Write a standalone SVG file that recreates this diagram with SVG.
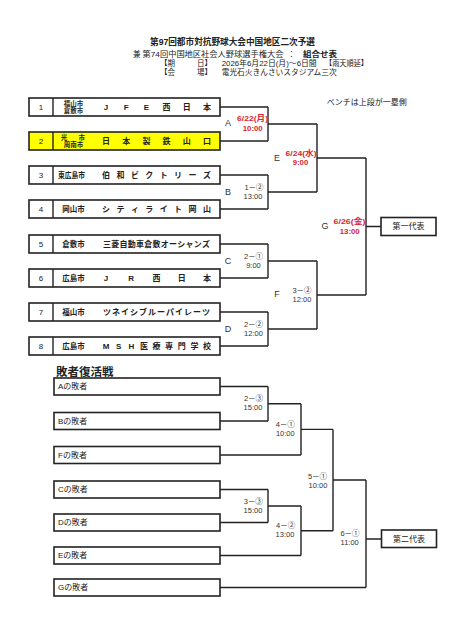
<svg xmlns="http://www.w3.org/2000/svg" width="453" height="640" viewBox="0 0 453 640">
<style>
text{font-family:"Liberation Sans","Noto Sans CJK JP",sans-serif;dominant-baseline:central;fill:#222}
.box{fill:#fff;stroke:#222;stroke-width:1.6}
.yel{fill:#ffff00}
.div{stroke:#222;stroke-width:1.4}
.num{font-size:8px;text-anchor:middle}
.city{font-size:7.5px;font-weight:bold;text-anchor:middle}
.city2{font-size:6.5px;font-weight:bold;text-anchor:middle}
.team{font-size:8px;font-weight:bold;text-anchor:middle}
.lbl{font-size:9px;text-anchor:middle;fill:#333}
.date{font-size:7.8px;font-weight:bold;text-anchor:middle;fill:#d8262f}
.sc{font-size:7.5px;text-anchor:middle;fill:#333}
.lose{font-size:8px}
.rep{font-size:8px;text-anchor:middle}
.conn path{fill:none;stroke:#222;stroke-width:1.4}
.hd{font-size:7.5px}
</style>
<rect width="453" height="640" fill="#fff"/>

<g id="header">
<text x="232.5" y="42.3" font-size="8.7" font-weight="bold" text-anchor="middle" textLength="165" lengthAdjust="spacingAndGlyphs">第97回都市対抗野球大会中国地区二次予選</text>
<text class="hd" x="133" y="54.5">兼</text>
<text class="hd" x="142.5" y="54.5" textLength="141" lengthAdjust="spacingAndGlyphs">第74回中国地区社会人野球選手権大会</text>
<text class="hd" x="291.5" y="54.5" text-anchor="middle">：</text>
<text class="hd" x="303" y="54.5" font-weight="bold" textLength="34" lengthAdjust="spacingAndGlyphs">組合せ表</text>
<text class="hd" x="160" y="63.3">【期</text>
<text class="hd" x="212" y="63.3" text-anchor="end">日】</text>
<text class="hd" x="221.7" y="63.3" textLength="95" lengthAdjust="spacingAndGlyphs">2026年6月22日(月)～6日間</text>
<text class="hd" x="325" y="63.3" textLength="43" lengthAdjust="spacingAndGlyphs">【雨天順延】</text>
<text class="hd" x="160" y="72.2">【会</text>
<text class="hd" x="212" y="72.2" text-anchor="end">場】</text>
<text class="hd" x="221.7" y="72.2" textLength="115" lengthAdjust="spacingAndGlyphs">電光石火きんさいスタジアム三次</text>
<text x="326.7" y="102" font-size="8" fill="#333" textLength="80" lengthAdjust="spacingAndGlyphs">ベンチは上段が一塁側</text>
</g>

<g class="conn" id="connectors">
<path d="M220,107H268M220,141H268M268,107V141M268,124H317"/>
<path d="M220,175H268M220,209H268M268,175V209M268,192H317"/>
<path d="M317,124V192M317,158H366"/>
<path d="M220,244H268M220,278H268M268,244V278M268,261H317"/>
<path d="M220,312H268M220,346H268M268,312V346M268,329H317"/>
<path d="M317,261V329M317,295H366"/>
<path d="M366,158V295M366,226.5H381"/>
<path d="M220,386.5H268M220,421H268M268,386.5V421M268,403.75H301"/>
<path d="M301,403.75V455M220,455H301M301,429.4H333"/>
<path d="M220,489.5H268M220,522.5H268M268,489.5V522.5M268,506H301"/>
<path d="M301,506V555.5M220,555.5H301M301,530.75H333"/>
<path d="M333,429.4V530.75M333,480H366"/>
<path d="M366,480V587.5M220,587.5H366M366,539H381.5"/>
</g>

<g id="team1">
<rect class="box" x="29" y="98" width="191" height="18"/><line class="div" x1="53" y1="98" x2="53" y2="116"/>
<text class="num" x="41" y="107">1</text>
<text class="city2" x="73.5" y="103">福山市</text><text class="city2" x="73.5" y="110.8">倉敷市</text>
<text class="team" x="106 126.2 146.4 166.6 186.8 207" y="107">JFE西日本</text>
</g>
<g id="team2">
<rect class="box yel" x="29" y="132" width="191" height="18"/><line class="div" x1="53" y1="132" x2="53" y2="150"/>
<text class="num" x="41" y="141">2</text>
<text class="city2" x="64 81.7" y="137">光市</text><text class="city2" x="73.5" y="144.8">周南市</text>
<text class="team" x="106 126.2 146.4 166.6 186.8 207" y="141">日本製鉄山口</text>
</g>
<g id="team3">
<rect class="box" x="29" y="166" width="191" height="18"/><line class="div" x1="53" y1="166" x2="53" y2="184"/>
<text class="num" x="41" y="175">3</text>
<text class="city" x="71.5" y="175" textLength="27" lengthAdjust="spacingAndGlyphs">東広島市</text>
<text class="team" x="106 120.4 134.9 149.3 163.7 178.1 192.6 207" y="175">伯和ビクトリーズ</text>
</g>
<g id="team4">
<rect class="box" x="29" y="200" width="191" height="18"/><line class="div" x1="53" y1="200" x2="53" y2="218"/>
<text class="num" x="41" y="209">4</text>
<text class="city" x="73.5" y="209">岡山市</text>
<text class="team" x="106 120.4 134.9 149.3 163.7 178.1 192.6 207" y="209">シティライト岡山</text>
</g>
<g id="team5">
<rect class="box" x="29" y="235" width="191" height="18"/><line class="div" x1="53" y1="235" x2="53" y2="253"/>
<text class="num" x="41" y="244">5</text>
<text class="city" x="73.5" y="244">倉敷市</text>
<text class="team" x="107 115.25 123.5 131.75 140 148.25 156.5 164.75 173 181.25 189.5 197.75 206" y="244">三菱自動車倉敷オーシャンズ</text>
</g>
<g id="team6">
<rect class="box" x="29" y="269" width="191" height="18"/><line class="div" x1="53" y1="269" x2="53" y2="287"/>
<text class="num" x="41" y="278">6</text>
<text class="city" x="73.5" y="278">広島市</text>
<text class="team" x="106 131.25 156.5 181.75 207" y="278">JR西日本</text>
</g>
<g id="team7">
<rect class="box" x="29" y="303" width="191" height="18"/><line class="div" x1="53" y1="303" x2="53" y2="321"/>
<text class="num" x="41" y="312">7</text>
<text class="city" x="73.5" y="312">福山市</text>
<text class="team" x="107 116 125 134 143 152 161 170 179 188 197 206" y="312">ツネイシブルーパイレーツ</text>
</g>
<g id="team8">
<rect class="box" x="29" y="337" width="191" height="18"/><line class="div" x1="53" y1="337" x2="53" y2="355"/>
<text class="num" x="41" y="346">8</text>
<text class="city" x="73.5" y="346">広島市</text>
<text class="team" x="106 118.6 131.3 143.9 156.5 169.1 181.8 194.4 207" y="346">MSH医療専門学校</text>
</g>

<g id="matchA"><text class="lbl" x="228" y="123">A</text><text class="date" x="252.5" y="118.8" textLength="31" lengthAdjust="spacingAndGlyphs">6/22(月)</text><text class="date" x="252.7" y="128">10:00</text></g>
<g id="matchB"><text class="lbl" x="228" y="192">B</text><text class="sc" x="254" y="187.5">1－②</text><text class="sc" x="253" y="196.5">13:00</text></g>
<g id="matchC"><text class="lbl" x="228" y="261">C</text><text class="sc" x="253.5" y="256">2－①</text><text class="sc" x="253.5" y="265">9:00</text></g>
<g id="matchD"><text class="lbl" x="228" y="329">D</text><text class="sc" x="253.5" y="324">2－②</text><text class="sc" x="253.5" y="333">12:00</text></g>
<g id="matchE"><text class="lbl" x="277" y="158">E</text><text class="date" x="301" y="153" textLength="31" lengthAdjust="spacingAndGlyphs">6/24(水)</text><text class="date" x="300.5" y="162.2">9:00</text></g>
<g id="matchF"><text class="lbl" x="277" y="294">F</text><text class="sc" x="302" y="290">3－②</text><text class="sc" x="302" y="299.2">12:00</text></g>
<g id="matchG"><text class="lbl" x="325" y="226">G</text><text class="date" x="349.5" y="221.8" textLength="32" lengthAdjust="spacingAndGlyphs">6/26(金)</text><text class="date" x="349.7" y="231">13:00</text></g>

<g id="rep1"><rect class="box" x="381" y="217.5" width="55" height="18"/><text class="rep" x="408.5" y="226.5">第一代表</text></g>

<text x="56" y="371.5" font-size="11.5" font-weight="bold">敗者復活戦</text>

<g id="loserA"><rect class="box" x="54" y="378" width="166" height="17"/><text class="lose" x="58" y="386.5">Aの敗者</text></g>
<g id="loserB"><rect class="box" x="54" y="412.5" width="166" height="17"/><text class="lose" x="58" y="421">Bの敗者</text></g>
<g id="loserF"><rect class="box" x="54" y="446.5" width="166" height="17"/><text class="lose" x="58" y="455">Fの敗者</text></g>
<g id="loserC"><rect class="box" x="54" y="481" width="166" height="17"/><text class="lose" x="58" y="489.5">Cの敗者</text></g>
<g id="loserD"><rect class="box" x="54" y="514" width="166" height="17"/><text class="lose" x="58" y="522.5">Dの敗者</text></g>
<g id="loserE"><rect class="box" x="54" y="547" width="166" height="17"/><text class="lose" x="58" y="555.5">Eの敗者</text></g>
<g id="loserG"><rect class="box" x="54" y="579" width="166" height="17"/><text class="lose" x="58" y="587.5">Gの敗者</text></g>

<g id="m2-3"><text class="sc" x="253.5" y="398">2－③</text><text class="sc" x="253" y="407">15:00</text></g>
<g id="m4-1"><text class="sc" x="285.3" y="424">4－①</text><text class="sc" x="285.3" y="433">10:00</text></g>
<g id="m3-3"><text class="sc" x="253.3" y="501.5">3－③</text><text class="sc" x="253" y="510.5">15:00</text></g>
<g id="m4-2"><text class="sc" x="285.7" y="525.5">4－②</text><text class="sc" x="285" y="534.5">13:00</text></g>
<g id="m5-1"><text class="sc" x="317.5" y="476">5－①</text><text class="sc" x="318" y="485.5">10:00</text></g>
<g id="m6-1"><text class="sc" x="350" y="533">6－①</text><text class="sc" x="349.7" y="542.3">11:00</text></g>

<g id="rep2"><rect class="box" x="381.5" y="530" width="55" height="17.5"/><text class="rep" x="409" y="539">第二代表</text></g>
</svg>
